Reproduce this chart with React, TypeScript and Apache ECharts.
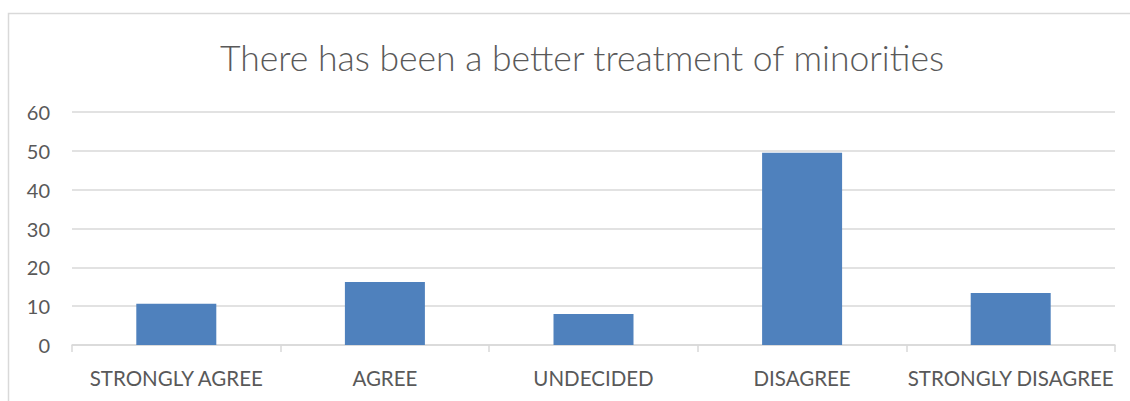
import React, { useEffect, useRef } from "react";
import * as echarts from "echarts";

const categories = ["STRONGLY AGREE", "AGREE", "UNDECIDED", "DISAGREE", "STRONGLY DISAGREE"];
const values = [10.6, 16.2, 8.0, 49.5, 13.4];
const yTicks = { min: 0, max: 60, interval: 10 };
const titleText = "There has been a better treatment of minorities";

const FONT = "Lato, 'Open Sans', sans-serif";
const TEXT = "#595959";
const GRID = "#D9D9D9";
const BAR = "#4F81BD";

export default function App() {
  const ref = useRef<HTMLDivElement>(null);

  useEffect(() => {
    if (!ref.current) return;
    const chart = echarts.init(ref.current, null, { renderer: "svg" });
    chart.setOption({
      animation: false,
      backgroundColor: "#ffffff",
      title: {
        text: titleText,
        left: 577,
        top: 34,
        textAlign: "center",
        textStyle: { fontFamily: FONT, fontSize: 35.5, fontWeight: 300, color: "#595959" },
      },
      graphic: [
        {
          type: "rect",
          shape: { x: 8.5, y: 13.5, width: 1140, height: 400 },
          style: { fill: "none", stroke: GRID, lineWidth: 1.5 },
          silent: true,
        },
      ],
      grid: { left: 72, right: 15, top: 112, bottom: 56 },
      xAxis: {
        type: "category",
        data: categories,
        axisLine: { lineStyle: { color: GRID, width: 1.5 } },
        axisTick: { show: true, length: 7, lineStyle: { color: GRID, width: 1.5 } },
        axisLabel: { color: TEXT, fontFamily: FONT, fontSize: 20.5, margin: 22, interval: 0 },
      },
      yAxis: {
        type: "value",
        min: yTicks.min,
        max: yTicks.max,
        interval: yTicks.interval,
        axisLine: { show: false },
        axisTick: { show: false },
        splitLine: { lineStyle: { color: GRID, width: 1.5 } },
        axisLabel: { color: TEXT, fontFamily: FONT, fontSize: 20, margin: 22 },
      },
      series: [
        {
          type: "bar",
          data: values,
          barWidth: 80,
          itemStyle: { color: BAR },
        },
      ],
    });
    return () => chart.dispose();
  }, []);

  return (
    <div
      ref={ref}
      style={{ position: "fixed", left: 0, top: 0, width: 1130, height: 401 }}
    />
  );
}
